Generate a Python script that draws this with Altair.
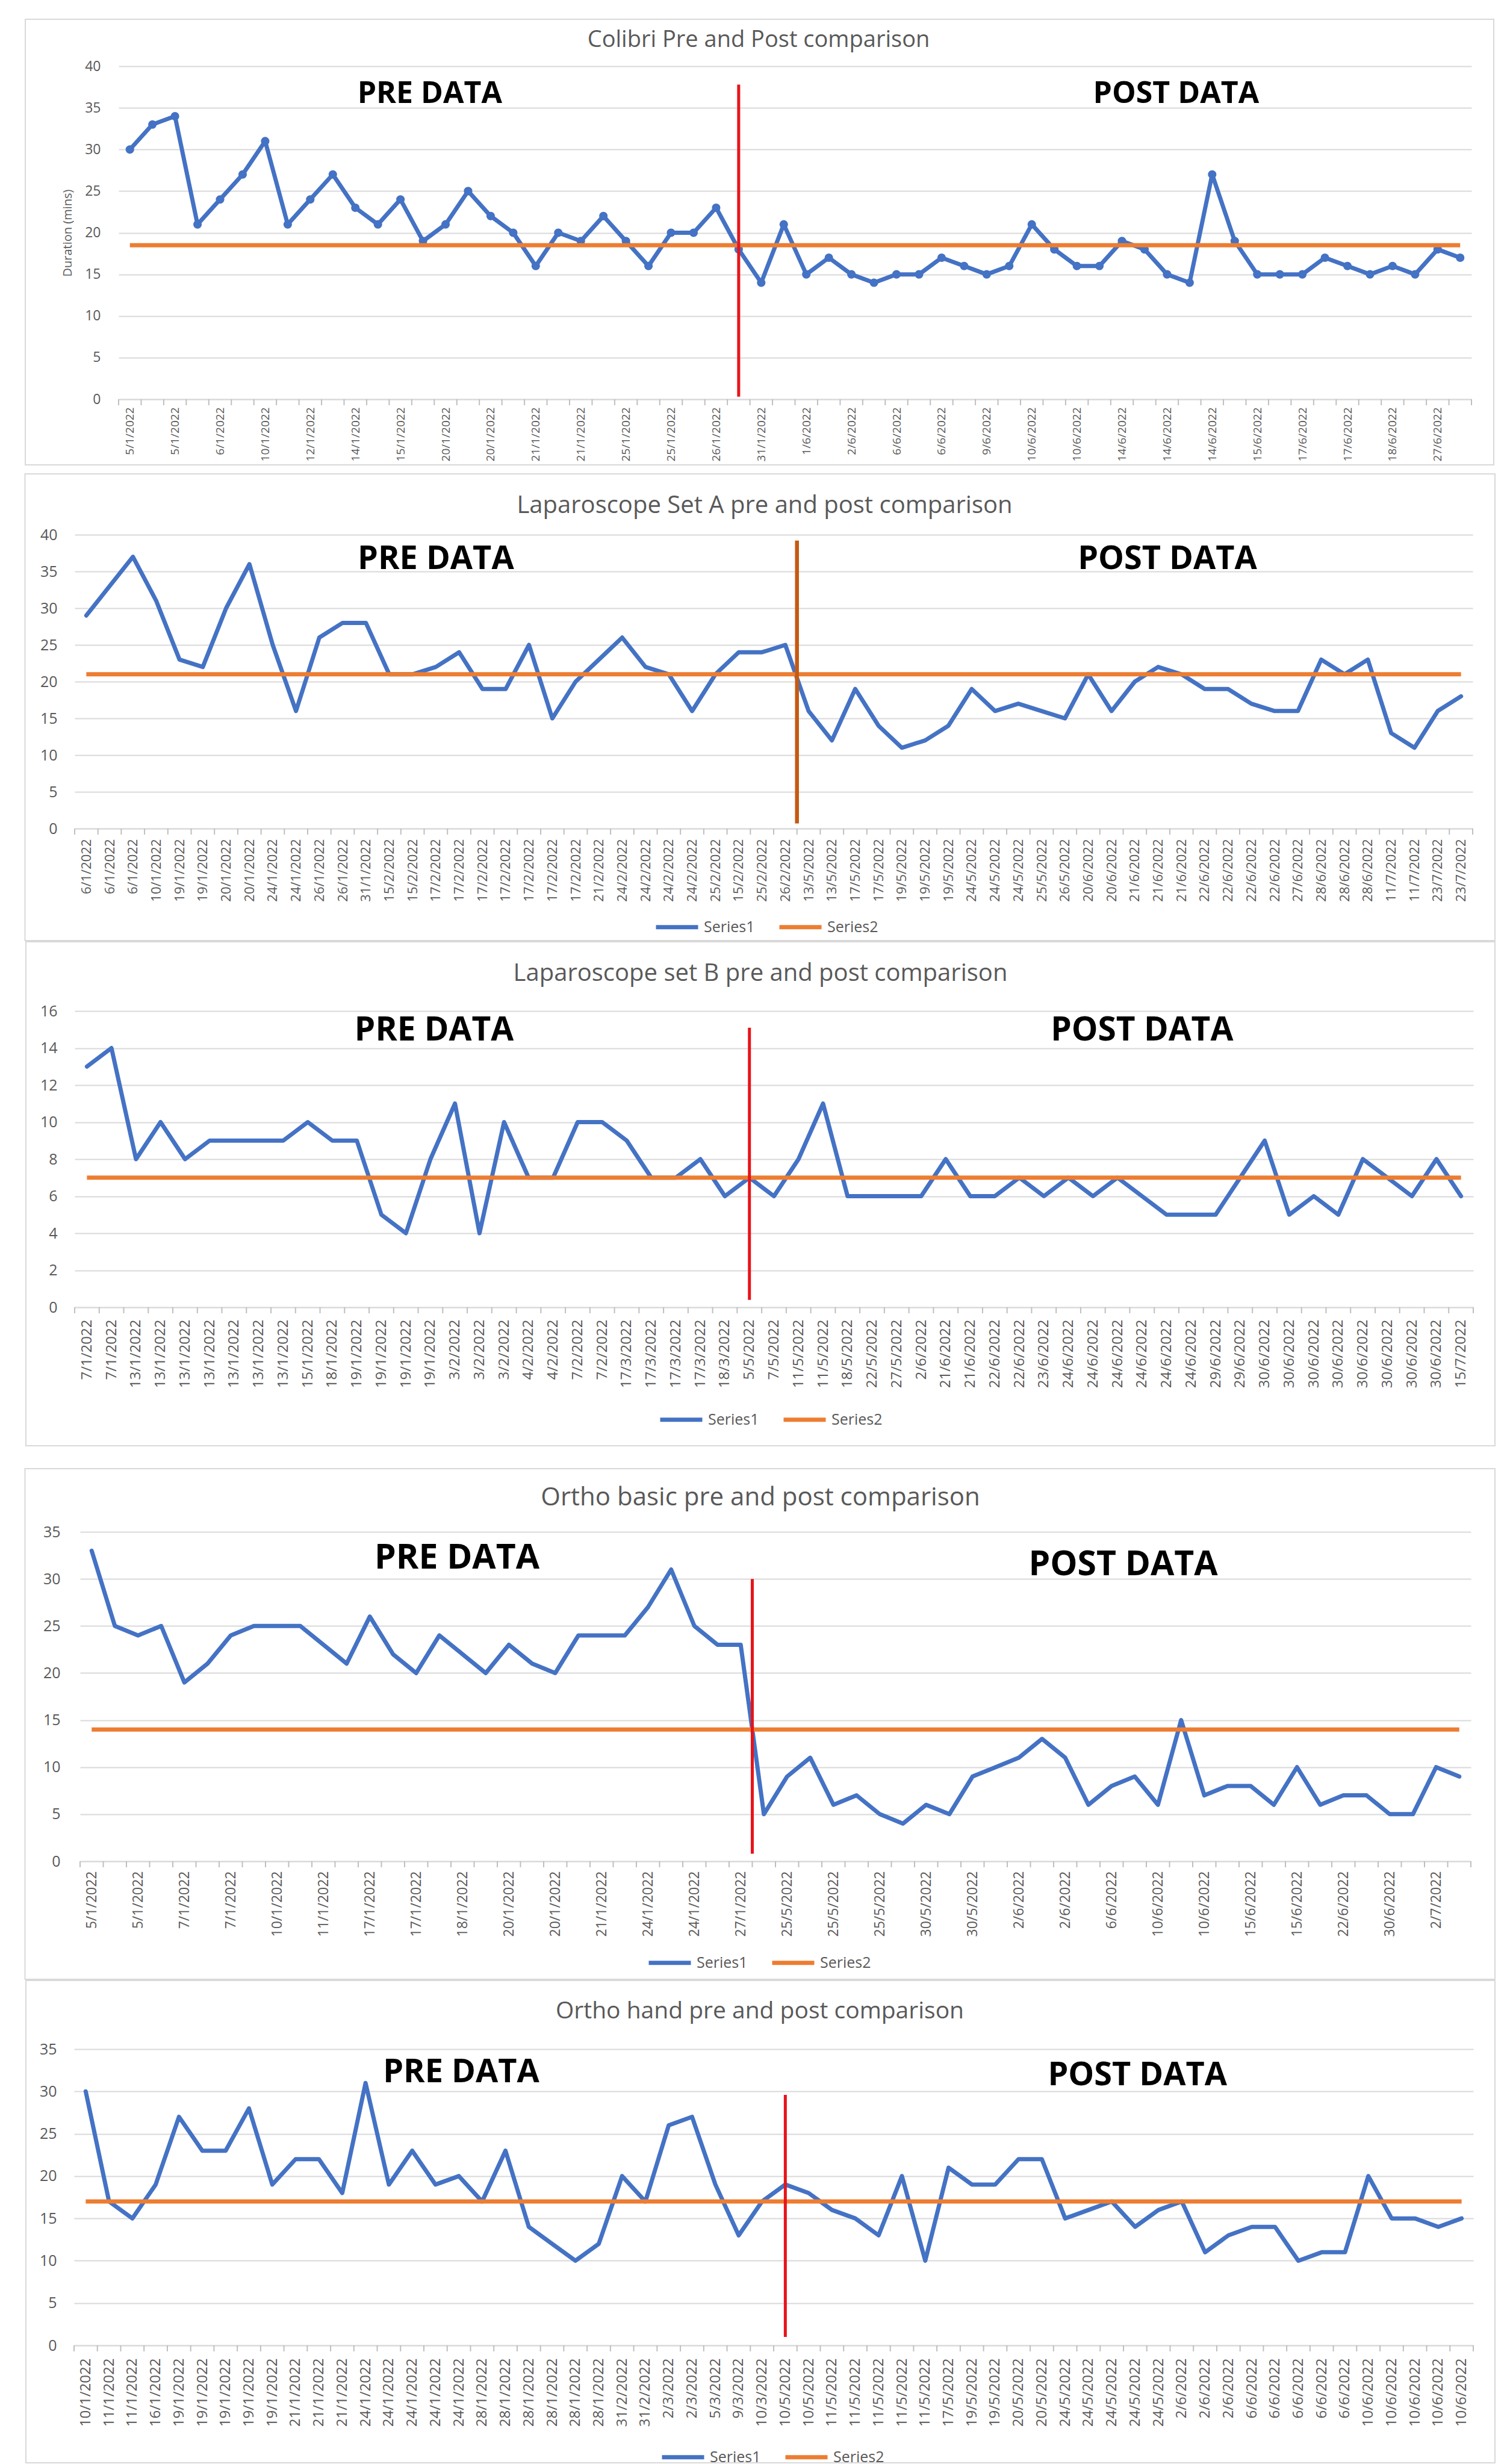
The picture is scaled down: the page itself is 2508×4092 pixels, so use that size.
import json
import numpy as np
import pandas as pd
import altair as alt

FONT = "Open Sans"
BLUE, ORANGE, RED, BROWN = "#4472C4", "#ED7D31", "#E8141B", "#C55A11"
GRID, TICKC, TXT, FRAMEC = "#D9D9D9", "#BFBFBF", "#595959", "#D9D9D9"
SERIES = ["Series1", "Series2"]

# ----------------------------- data -----------------------------
P1_TITLE = "Colibri Pre and Post comparison"
P1_LABELS = ["5/1/2022", "5/1/2022", "6/1/2022", "10/1/2022", "12/1/2022", "14/1/2022",
             "15/1/2022", "20/1/2022", "20/1/2022", "21/1/2022", "21/1/2022", "25/1/2022",
             "25/1/2022", "26/1/2022", "31/1/2022", "1/6/2022", "2/6/2022", "6/6/2022",
             "6/6/2022", "9/6/2022", "10/6/2022", "10/6/2022", "14/6/2022", "14/6/2022",
             "14/6/2022", "15/6/2022", "17/6/2022", "17/6/2022", "18/6/2022", "27/6/2022"]
P1_S1 = [30, 33, 34, 21, 24, 27, 31, 21, 24, 27, 23, 21, 24, 19, 21, 25, 22, 20, 16, 20,
         19, 22, 19, 16, 20, 20, 23, 18, 14, 21, 15, 17, 15, 14, 15, 15, 17, 16, 15, 16,
         21, 18, 16, 16, 19, 18, 15, 14, 27, 19, 15, 15, 15, 17, 16, 15, 16, 15, 18, 17]
P1_S2 = 18.5
P1_SPLIT = [28, 0.3, 37.8]

P2_TITLE = "Laparoscope Set A pre and post comparison"
P2_LABELS = ["6/1/2022", "6/1/2022", "6/1/2022", "10/1/2022", "19/1/2022", "19/1/2022",
             "20/1/2022", "20/1/2022", "24/1/2022", "24/1/2022", "26/1/2022", "26/1/2022",
             "31/1/2022", "15/2/2022", "15/2/2022", "17/2/2022", "17/2/2022", "17/2/2022",
             "17/2/2022", "17/2/2022", "17/2/2022", "17/2/2022", "21/2/2022", "24/2/2022",
             "24/2/2022", "24/2/2022", "24/2/2022", "25/2/2022", "15/2/2022", "25/2/2022",
             "26/2/2022", "13/5/2022", "13/5/2022", "17/5/2022", "17/5/2022", "19/5/2022",
             "19/5/2022", "19/5/2022", "24/5/2022", "24/5/2022", "24/5/2022", "25/5/2022",
             "26/5/2022", "20/6/2022", "20/6/2022", "21/6/2022", "21/6/2022", "21/6/2022",
             "22/6/2022", "22/6/2022", "22/6/2022", "22/6/2022", "27/6/2022", "28/6/2022",
             "28/6/2022", "28/6/2022", "11/7/2022", "11/7/2022", "23/7/2022", "23/7/2022"]
P2_S1 = [29, 33, 37, 31, 23, 22, 30, 36, 25, 16, 26, 28, 28, 21, 21, 22, 24, 19, 19, 25,
         15, 20, 23, 26, 22, 21, 16, 21, 24, 24, 25, 16, 12, 19, 14, 11, 12, 14, 19, 16,
         17, 16, 15, 21, 16, 20, 22, 21, 19, 19, 17, 16, 16, 23, 21, 23, 13, 11, 16, 18]
P2_S2 = 21
P2_SPLIT = [31.5, 0.7, 39.2]

P3_TITLE = "Laparoscope set B pre and post comparison"
P3_LABELS = ["7/1/2022", "7/1/2022", "13/1/2022", "13/1/2022", "13/1/2022", "13/1/2022",
             "13/1/2022", "13/1/2022", "13/1/2022", "15/1/2022", "18/1/2022", "19/1/2022",
             "19/1/2022", "19/1/2022", "19/1/2022", "3/2/2022", "3/2/2022", "3/2/2022",
             "4/2/2022", "4/2/2022", "7/2/2022", "7/2/2022", "17/3/2022", "17/3/2022",
             "17/3/2022", "17/3/2022", "18/3/2022", "5/5/2022", "7/5/2022", "11/5/2022",
             "11/5/2022", "18/5/2022", "22/5/2022", "27/5/2022", "2/6/2022", "21/6/2022",
             "21/6/2022", "22/6/2022", "22/6/2022", "23/6/2022", "24/6/2022", "24/6/2022",
             "24/6/2022", "24/6/2022", "24/6/2022", "24/6/2022", "29/6/2022", "29/6/2022",
             "30/6/2022", "30/6/2022", "30/6/2022", "30/6/2022", "30/6/2022", "30/6/2022",
             "30/6/2022", "30/6/2022", "15/7/2022"]
P3_S1 = [13, 14, 8, 10, 8, 9, 9, 9, 9, 10, 9, 9, 5, 4, 8, 11, 4, 10, 7, 7,
         10, 10, 9, 7, 7, 8, 6, 7, 6, 8, 11, 6, 6, 6, 6, 8, 6, 6, 7, 6,
         7, 6, 7, 6, 5, 5, 5, 7, 9, 5, 6, 5, 8, 7, 6, 8, 6]
P3_S2 = 7
P3_SPLIT = [28, 0.4, 15.1]

P4_TITLE = "Ortho basic pre and post comparison"
P4_LABELS = ["5/1/2022", "5/1/2022", "7/1/2022", "7/1/2022", "10/1/2022", "11/1/2022",
             "17/1/2022", "17/1/2022", "18/1/2022", "20/1/2022", "20/1/2022", "21/1/2022",
             "24/1/2022", "24/1/2022", "27/1/2022", "25/5/2022", "25/5/2022", "25/5/2022",
             "30/5/2022", "30/5/2022", "2/6/2022", "2/6/2022", "6/6/2022", "10/6/2022",
             "10/6/2022", "15/6/2022", "15/6/2022", "22/6/2022", "30/6/2022", "2/7/2022"]
P4_S1 = [33, 25, 24, 25, 19, 21, 24, 25, 25, 25, 23, 21, 26, 22, 20, 24, 22, 20, 23, 21,
         20, 24, 24, 24, 27, 31, 25, 23, 23, 5, 9, 11, 6, 7, 5, 4, 6, 5, 9, 10,
         11, 13, 11, 6, 8, 9, 6, 15, 7, 8, 8, 6, 10, 6, 7, 7, 5, 5, 10, 9]
P4_S2 = 14
P4_SPLIT = [29.5, 0.8, 30]

P5_TITLE = "Ortho hand pre and post comparison"
P5_LABELS = ["10/1/2022", "11/1/2022", "11/1/2022", "16/1/2022", "19/1/2022", "19/1/2022",
             "19/1/2022", "19/1/2022", "19/1/2022", "21/1/2022", "21/1/2022", "21/1/2022",
             "24/1/2022", "24/1/2022", "24/1/2022", "24/1/2022", "24/1/2022", "28/1/2022",
             "28/1/2022", "28/1/2022", "28/1/2022", "28/1/2022", "28/1/2022", "31/2/2022",
             "31/2/2022", "2/3/2022", "2/3/2022", "5/3/2022", "9/3/2022", "10/3/2022",
             "10/5/2022", "10/5/2022", "11/5/2022", "11/5/2022", "11/5/2022", "11/5/2022",
             "11/5/2022", "17/5/2022", "19/5/2022", "19/5/2022", "20/5/2022", "20/5/2022",
             "24/5/2022", "24/5/2022", "24/5/2022", "24/5/2022", "24/5/2022", "2/6/2022",
             "2/6/2022", "2/6/2022", "6/6/2022", "6/6/2022", "6/6/2022", "6/6/2022",
             "6/6/2022", "10/6/2022", "10/6/2022", "10/6/2022", "10/6/2022", "10/6/2022"]
P5_S1 = [30, 17, 15, 19, 27, 23, 23, 28, 19, 22, 22, 18, 31, 19, 23, 19, 20, 17, 23, 14,
         12, 10, 12, 20, 17, 26, 27, 19, 13, 17, 19, 18, 16, 15, 13, 20, 10, 21, 19, 19,
         22, 22, 15, 16, 17, 14, 16, 17, 11, 13, 14, 14, 10, 11, 11, 20, 15, 15, 14, 15]
P5_S2 = 17
P5_SPLIT = [31, 1.0, 29.6]

ANNOT = ["PRE DATA", "POST DATA"]

# ----------------------------- layout (page pixels) -----------------------------
PANELS = [
    dict(title=P1_TITLE, labels=P1_LABELS, every=2, s1=P1_S1, s2=P1_S2, split=P1_SPLIT,
         split_color=RED, split_w=5, ymax=40, ystep=5, plot=(197, 110, 2444, 663),
         frame=(42, 32, 2481, 772), tpos=(1260, 67), tfs=38, xfs=19, xpad=13, yfs=23,
         ypad=30, ytitle="Duration (mins)", markers=True, legend=None,
         ann=[(14.3, 36.7), (47.4, 36.7)], afs=50, sw=7),
    dict(title=P2_TITLE, labels=P2_LABELS, every=1, s1=P2_S1, s2=P2_S2, split=P2_SPLIT,
         split_color=BROWN, split_w=6.5, ymax=40, ystep=5, plot=(124, 888, 2446, 1376),
         frame=(41.5, 787, 2483, 1562), tpos=(1270, 840), tfs=40, xfs=22, xpad=17, yfs=25,
         ypad=29, ytitle=None, markers=False, legend=(1086, 1539),
         ann=[(16.0, 36.6), (47.4, 36.6)], afs=54, sw=7),
    dict(title=P3_TITLE, labels=P3_LABELS, every=1, s1=P3_S1, s2=P3_S2, split=P3_SPLIT,
         split_color=RED, split_w=5, ymax=16, ystep=2, plot=(124, 1679, 2447, 2171),
         frame=(43, 1564, 2483, 2401), tpos=(1263, 1617), tfs=40, xfs=24, xpad=20, yfs=25,
         ypad=29, ytitle=None, markers=False, legend=(1093, 2357),
         ann=[(15.15, 14.96), (44.0, 14.96)], afs=55, sw=7),
    dict(title=P4_TITLE, labels=P4_LABELS, every=2, s1=P4_S1, s2=P4_S2, split=P4_SPLIT,
         split_color=RED, split_w=5, ymax=35, ystep=5, plot=(133, 2544, 2443, 3091),
         frame=(41.5, 2439, 2483, 3287), tpos=(1263, 2487), tfs=42, xfs=23, xpad=16, yfs=25,
         ypad=33, ytitle=None, markers=False, legend=(1074, 3259),
         ann=[(16.76, 32.2), (45.5, 31.5)], afs=57, sw=7),
    dict(title=P5_TITLE, labels=P5_LABELS, every=1, s1=P5_S1, s2=P5_S2, split=P5_SPLIT,
         split_color=RED, split_w=5, ymax=35, ystep=5, plot=(123, 3403, 2447, 3895),
         frame=(43, 3289, 2483, 4090), tpos=(1262, 3340), tfs=39, xfs=24, xpad=21, yfs=25,
         ypad=29, ytitle=None, markers=False, legend=(1096, 4080),
         ann=[(17.1, 32.2), (46.1, 31.9)], afs=54, sw=7),
]

VIEW_L = min(p["plot"][0] for p in PANELS)   # common left edge of every view


def spacer(w, h):
    return alt.Chart(pd.DataFrame({"a": [0]})).mark_point(opacity=0).encode(
        x=alt.value(0), y=alt.value(0)).properties(width=w, height=h)


def build(p):
    s1 = p["s1"]
    n = len(s1)
    L, T, R, B = p["plot"]
    W, H = R - VIEW_L, B - T
    x0 = L - VIEW_L
    fx1, fy1, fx2, fy2 = p["frame"]

    xs = alt.Scale(domain=[0.5, n + 0.5], nice=False, zero=False, range=[x0, W])
    ys = alt.Scale(domain=[0, p["ymax"]], nice=False)
    arr = json.dumps(p["labels"])
    if p["every"] == 1:
        vals = list(range(1, n + 1))
        expr = arr + "[datum.value - 1]"
    else:
        vals = list(range(1, n + 1, 2))
        expr = arr + "[(datum.value - 1) / 2]"
    xaxis = alt.Axis(values=vals, labelExpr=expr, labelAngle=-90, labelFont=FONT,
                     labelFontSize=p["xfs"], labelColor=TXT, labelPadding=p["xpad"],
                     labelOverlap=False, labelFlush=False, labelBound=False, ticks=False,
                     grid=False, domainColor=GRID, domainWidth=2, title=None)
    yargs = dict(values=list(range(0, p["ymax"] + 1, p["ystep"])), grid=True,
                 gridColor=GRID, gridWidth=2, domain=False, ticks=False, labelFont=FONT,
                 labelFontSize=p["yfs"], labelColor=TXT, labelPadding=p["ypad"])
    if x0 > 0:
        yargs.update(offset=-x0)
    if p["ytitle"]:
        yargs.update(title=p["ytitle"], titleFont=FONT, titleFontSize=20,
                     titleFontWeight="normal", titleColor=TXT, titlePadding=18)
    else:
        yargs.update(title=None)
    yaxis = alt.Axis(**yargs)

    def X(f):
        return alt.X(f, scale=xs, axis=xaxis)

    def Y(f):
        return alt.Y(f, scale=ys, axis=yaxis)

    if p["legend"]:
        lx, ly = p["legend"]
        legend = alt.Legend(orient="none", legendX=lx - VIEW_L, legendY=ly - T - 38,
                            direction="horizontal", title=None, symbolType="stroke",
                            symbolSize=4900, symbolStrokeWidth=7, labelFont=FONT,
                            labelFontSize=25, labelColor=TXT, labelOffset=6,
                            columnPadding=26, padding=0)
    else:
        legend = None
    color = alt.Color("series:N", scale=alt.Scale(domain=SERIES, range=[BLUE, ORANGE]),
                      legend=legend)

    one = pd.DataFrame({"a": [0]})
    frame = alt.Chart(one).mark_rect(
        fillOpacity=0, stroke=FRAMEC, strokeWidth=2).encode(
        x=alt.value(fx1 - VIEW_L), x2=alt.value(fx2 - VIEW_L), y=alt.value(fy1 - T),
        y2=alt.value(fy2 - T))

    tx, ty = p["tpos"]
    title = alt.Chart(pd.DataFrame({"title": [p["title"]]})).mark_text(
        font=FONT, fontSize=p["tfs"], color=TXT, align="center", baseline="middle").encode(
        x=alt.value(tx - VIEW_L), y=alt.value(ty - T), text="title:N")

    tdf = pd.DataFrame({"t": np.arange(0.5, n + 1, 1.0)})
    ticks = alt.Chart(tdf).mark_rule(color=TICKC, strokeWidth=2).encode(
        x=X("t:Q"), y=alt.value(H), y2=alt.value(H + 10))

    d1 = pd.DataFrame({"i": list(range(1, n + 1)), "v": s1, "series": "Series1"})
    d2 = pd.DataFrame({"i": [1, n], "v": [p["s2"], p["s2"]], "series": "Series2"})
    if p["markers"]:
        mk = dict(point=alt.OverlayMarkDef(filled=True, size=200, opacity=1))
    else:
        mk = {}
    line1 = alt.Chart(d1).mark_line(strokeWidth=p["sw"], strokeJoin="round",
                                    strokeCap="round", **mk).encode(
        x=X("i:Q"), y=Y("v:Q"), color=color)
    line2 = alt.Chart(d2).mark_line(strokeWidth=7).encode(
        x=X("i:Q"), y=Y("v:Q"), color=color)

    sx, slo, shi = p["split"]
    vdf = pd.DataFrame({"x": [sx], "y1": [slo], "y2": [shi]})
    vrule = alt.Chart(vdf).mark_rule(color=p["split_color"], strokeWidth=p["split_w"]).encode(
        x=X("x:Q"), y=Y("y1:Q"), y2="y2:Q")

    adf = pd.DataFrame({"txt": ANNOT, "x": [a[0] for a in p["ann"]],
                        "y": [a[1] for a in p["ann"]]})
    text = alt.Chart(adf).mark_text(font=FONT, fontWeight="bold", fontSize=p["afs"],
                                    color="black").encode(
        x=X("x:Q"), y=Y("y:Q"), text="txt:N")

    return alt.layer(frame, title, ticks, line1, line2, vrule, text).properties(
        width=W, height=H)


rows = []
prev_bottom = None
for p in PANELS:
    L, T, R, B = p["plot"]
    if prev_bottom is not None:
        rows.append(spacer(10, T - prev_bottom))
    rows.append(build(p))
    prev_bottom = B

min_fx = min(p["frame"][0] for p in PANELS)
min_fy = min(p["frame"][1] for p in PANELS)
chart = alt.vconcat(*rows, spacing=0, bounds="flush").resolve_scale(
    color="independent", x="independent", y="independent").properties(
    padding={"left": int(round(min_fx - 1 - 8)), "top": int(round(min_fy - 1 - 8)),
             "right": 10, "bottom": 5},
    background="white").configure_view(stroke=None)

chart.save("out.html", embed_options={"renderer": "svg", "actions": False})
